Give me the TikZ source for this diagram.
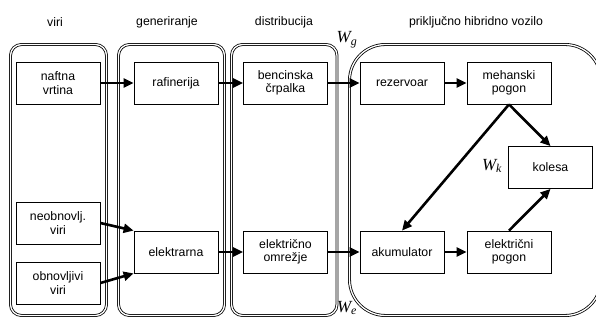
\documentclass[tikz,border=0pt]{standalone}
\usepackage{fontspec}
\setmainfont{Liberation Sans}
\newfontfamily\wfont{Liberation Serif}
\usetikzlibrary{arrows.meta}
\begin{document}
\begin{tikzpicture}[x=1pt,y=-1pt,
  font=\fontsize{12.3}{13.5}\selectfont,
  blok/.style={draw, line width=0.8pt, minimum width=84pt, minimum height=42pt,
    inner sep=0pt, align=center},
  okvir/.style={draw, line width=0.8pt, double, double distance=1.3pt},
  tok/.style={line width=2.6pt, -{Triangle[length=10pt,width=9pt]}},
  naslov/.style={anchor=center},
  wlab/.style={font=\wfont\fontsize{17}{18}\selectfont\itshape}]
\useasboundingbox (0,0) rectangle (596,320);

% stage frames
\draw[okvir, rounded corners=11pt] (10.5,44.5) rectangle (106.5,315.5);
\draw[okvir, rounded corners=11pt] (118.5,44.5) rectangle (224.5,315.5);
\draw[okvir, rounded corners=11pt] (231.5,44.5) rectangle (337,315.5);
\draw[okvir, rounded corners=36pt] (349.5,44.5) rectangle (601,315.5);

% stage titles
\node[naslov] (tviri) at (55,22) {viri};
\node[naslov] (tgen) at (167,22) {generiranje};
\node[naslov] (tdist) at (284,22) {distribucija};
\node[naslov] (tphv) at (476,22) {priključno hibridno vozilo};

% blocks
\node[blok] (nafta) at (58,83) {naftna\\vrtina};
\node[blok] (raf) at (176,83) {rafinerija};
\node[blok] (crp) at (285.5,83) {bencinska\\črpalka};
\node[blok] (rez) at (402,83) {rezervoar};
\node[blok] (meh) at (509,83) {mehanski\\pogon};
\node[blok] (kol) at (550.5,167.5) {kolesa};
\node[blok] (neo) at (58,223) {neobnovlj.\\viri};
\node[blok] (obn) at (58,283) {obnovljivi\\viri};
\node[blok] (elk) at (176,252) {elektrarna};
\node[blok] (omr) at (285.5,252) {električno\\omrežje};
\node[blok] (aku) at (402,252) {akumulator};
\node[blok] (ep) at (509,252) {električni\\pogon};

% energy flows
\draw[tok] (nafta) -- (raf);
\draw[tok] (raf) -- (crp);
\draw[tok] (crp) -- (rez);
\draw[tok] (rez) -- (meh);
\draw[tok] (neo.east) -- (elk.north west);
\draw[tok] (obn.east) -- (elk.south west);
\draw[tok] (elk) -- (omr);
\draw[tok] (omr) -- (aku);
\draw[tok] (aku) -- (ep);
\draw[tok] (meh.south) -- (aku.north);
\draw[tok] (meh.south) -- (kol.north);
\draw[tok] (ep.north) -- (kol.south);

% energy quantities
\node[wlab] (wg) at (347,40) {W\textsubscript{\itshape g}};
\node[wlab] (wk) at (492,166) {W\textsubscript{\itshape k}};
\node[wlab] (we) at (347,308) {W\textsubscript{\itshape e}};
\end{tikzpicture}
\end{document}
